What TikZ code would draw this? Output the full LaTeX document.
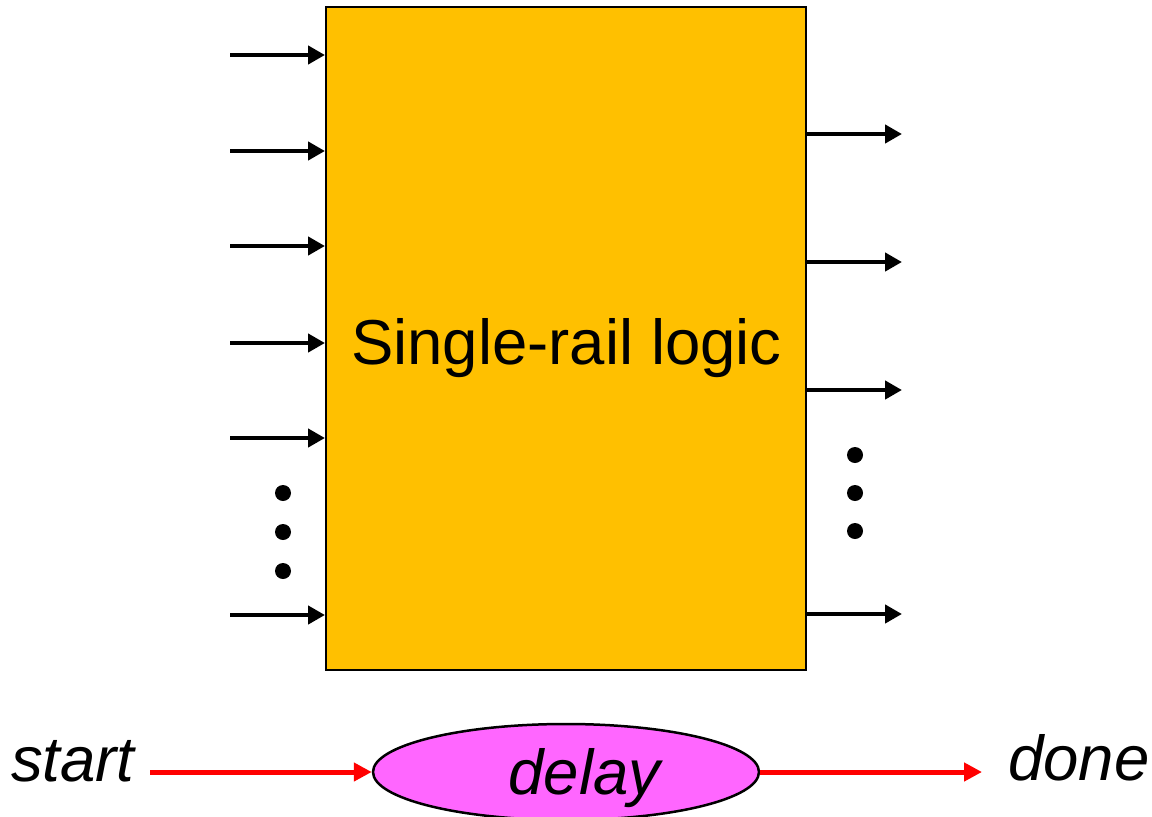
\documentclass[tikz,border=0pt]{standalone}
\usepackage{fontspec}
\setmainfont{Liberation Sans}
\usepackage{xcolor}
\definecolor{logicgold}{RGB}{255,192,0}
\definecolor{delaypink}{RGB}{255,102,255}
\definecolor{wirered}{RGB}{255,0,0}
\usetikzlibrary{arrows.meta,positioning,shapes.geometric}

\begin{document}
\begin{tikzpicture}[x=1pt,y=-1pt,
  wire/.style={line width=4.5pt,-{Triangle[length=17pt,width=18pt]}},
  ctrl/.style={line width=5pt,wirered,-{Triangle[length=18pt,width=18pt]}},
  dot/.style={circle,fill=black,inner sep=0pt,minimum size=16pt},
  bigtext/.style={font=\fontsize{63.5}{70}\selectfont}]
  \useasboundingbox (0,0) rectangle (1152,817);
  % Logic block
  \node[draw,line width=2pt,fill=logicgold,minimum width=480pt,minimum height=663pt] (logic) at (566,338.5) {};
  \node[bigtext,text depth=0pt] (logictext) at (566.5,341) {Single-rail logic};
  % Inputs
  \foreach \y [count=\i] in {55,151,246,343,438,615}{
    \coordinate (in\i) at (230,\y);
    \draw[wire] (in\i) -- (in\i -| logic.west);
  }
  \foreach \y [count=\i] in {493,532,571}
    \node[dot] (ldot\i) at (283,\y) {};
  % Outputs
  \foreach \y [count=\i] in {134,262,390,614}{
    \coordinate (out\i) at (902,\y);
    \draw[wire] (out\i -| logic.east) -- (out\i);
  }
  \foreach \y [count=\i] in {455,493,531}
    \node[dot] (rdot\i) at (855,\y) {};
  % Matched delay line
  \node[draw,ellipse,line width=2.5pt,fill=delaypink,inner sep=0pt,
        minimum width=386pt,minimum height=96pt,
        label={[bigtext,xshift=20pt,yshift=-6.5pt]center:\textit{delay}}] (delay) at (566,772) {};
  \node[bigtext,anchor=base east,inner xsep=13pt] (start) at (150,781) {\textit{start}};
  \node[bigtext,anchor=base west,inner xsep=26pt] (done) at (982,780) {\textit{done}};
  \draw[ctrl] (start.east |- delay.west) -- (delay.west);
  \draw[ctrl] (delay.east) -- (done.west |- delay.east);
\end{tikzpicture}
\end{document}
